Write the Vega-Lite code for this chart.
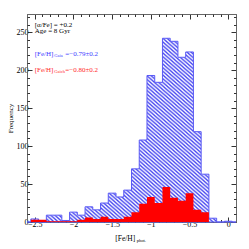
{
  "$schema": "https://vega.github.io/schema/vega-lite/v6.json",
  "width": 209,
  "height": 208,
  "autosize": {"type": "none"},
  "padding": {"left": 27, "top": 14, "right": 13, "bottom": 27},
  "background": "white",
  "config": {
    "view": {"stroke": null},
    "axis": {
      "grid": false,
      "labelFont": "Liberation Serif",
      "labelFontSize": 8,
      "labelColor": "#000",
      "titleFont": "Liberation Serif",
      "titleFontSize": 7,
      "titleFontWeight": "normal",
      "titleColor": "#000",
      "tickColor": "#333",
      "domainColor": "#666",
      "title": null
    }
  },
  "datasets": {
    "blue": [
      {"feh": -2.6, "n": 0}, {"feh": -2.5, "n": 4}, {"feh": -2.4, "n": 0}, {"feh": -2.3, "n": 9},
      {"feh": -2.2, "n": 9}, {"feh": -2.1, "n": 2}, {"feh": -2.0, "n": 13}, {"feh": -1.9, "n": 9},
      {"feh": -1.8, "n": 20}, {"feh": -1.7, "n": 16}, {"feh": -1.6, "n": 25}, {"feh": -1.5, "n": 38},
      {"feh": -1.4, "n": 33}, {"feh": -1.3, "n": 42}, {"feh": -1.2, "n": 70}, {"feh": -1.1, "n": 108},
      {"feh": -1.0, "n": 193}, {"feh": -0.9, "n": 184}, {"feh": -0.8, "n": 242}, {"feh": -0.7, "n": 238},
      {"feh": -0.6, "n": 217}, {"feh": -0.5, "n": 224}, {"feh": -0.4, "n": 119}, {"feh": -0.3, "n": 63},
      {"feh": -0.2, "n": 5}, {"feh": -0.1, "n": 0}, {"feh": 0.0, "n": 1}, {"feh": 0.1, "n": 0}
    ],
    "red": [
      {"feh": -2.6, "n": 0}, {"feh": -2.5, "n": 3}, {"feh": -2.4, "n": 3}, {"feh": -2.3, "n": 1},
      {"feh": -2.2, "n": 1}, {"feh": -2.1, "n": 1}, {"feh": -2.0, "n": 1}, {"feh": -1.9, "n": 3},
      {"feh": -1.8, "n": 6}, {"feh": -1.7, "n": 4}, {"feh": -1.6, "n": 7}, {"feh": -1.5, "n": 4},
      {"feh": -1.4, "n": 4}, {"feh": -1.3, "n": 7}, {"feh": -1.2, "n": 13}, {"feh": -1.1, "n": 24},
      {"feh": -1.0, "n": 33}, {"feh": -0.9, "n": 25}, {"feh": -0.8, "n": 46}, {"feh": -0.7, "n": 32},
      {"feh": -0.6, "n": 28}, {"feh": -0.5, "n": 38}, {"feh": -0.4, "n": 16}, {"feh": -0.3, "n": 13},
      {"feh": -0.2, "n": 0}, {"feh": -0.1, "n": 0}, {"feh": 0.0, "n": 0}, {"feh": 0.1, "n": 0}
    ],
    "notes": [
      {"x": -2.5, "y": 260, "label": "[α/Fe] = +0.2"},
      {"x": -2.5, "y": 251, "label": "Age = 8 Gyr"}
    ],
    "feh": [
      {"x": -2.5, "y": 221, "sample": "Gaia", "main": "[Fe/H]", "sub": "Gaia", "val": "=−0.79±0.2"},
      {"x": -2.5, "y": 200, "sample": "Gaich", "main": "[Fe/H]", "sub": "Gaich", "val": "=−0.80±0.2"}
    ],
    "xtitle": [
      {"x": -1.46, "y": 0, "main": "[Fe/H]", "sub": "phot."}
    ]
  },
  "resolve": {"axis": {"x": "independent", "y": "independent"}},
  "layer": [
    {
      "data": {"name": "blue"},
      "mark": {
        "type": "area",
        "interpolate": "step",
        "stroke": "#5a5af5",
        "strokeWidth": 1,
        "fill": {
          "gradient": "linear", "x1": 0, "y1": 1, "x2": 1, "y2": 0,
          "stops": [
            {"offset":0,"color":"#fff"},{"offset":0.005,"color":"#4848f0"},{"offset":0.01,"color":"#fff"},{"offset":0.015,"color":"#4848f0"},
            {"offset":0.02,"color":"#fff"},{"offset":0.025,"color":"#4848f0"},{"offset":0.03,"color":"#fff"},{"offset":0.035,"color":"#4848f0"},
            {"offset":0.04,"color":"#fff"},{"offset":0.045,"color":"#4848f0"},{"offset":0.05,"color":"#fff"},{"offset":0.055,"color":"#4848f0"},
            {"offset":0.06,"color":"#fff"},{"offset":0.065,"color":"#4848f0"},{"offset":0.07,"color":"#fff"},{"offset":0.075,"color":"#4848f0"},
            {"offset":0.08,"color":"#fff"},{"offset":0.085,"color":"#4848f0"},{"offset":0.09,"color":"#fff"},{"offset":0.095,"color":"#4848f0"},
            {"offset":0.1,"color":"#fff"},{"offset":0.105,"color":"#4848f0"},{"offset":0.11,"color":"#fff"},{"offset":0.115,"color":"#4848f0"},
            {"offset":0.12,"color":"#fff"},{"offset":0.125,"color":"#4848f0"},{"offset":0.13,"color":"#fff"},{"offset":0.135,"color":"#4848f0"},
            {"offset":0.14,"color":"#fff"},{"offset":0.145,"color":"#4848f0"},{"offset":0.15,"color":"#fff"},{"offset":0.155,"color":"#4848f0"},
            {"offset":0.16,"color":"#fff"},{"offset":0.165,"color":"#4848f0"},{"offset":0.17,"color":"#fff"},{"offset":0.175,"color":"#4848f0"},
            {"offset":0.18,"color":"#fff"},{"offset":0.185,"color":"#4848f0"},{"offset":0.19,"color":"#fff"},{"offset":0.195,"color":"#4848f0"},
            {"offset":0.2,"color":"#fff"},{"offset":0.205,"color":"#4848f0"},{"offset":0.21,"color":"#fff"},{"offset":0.215,"color":"#4848f0"},
            {"offset":0.22,"color":"#fff"},{"offset":0.225,"color":"#4848f0"},{"offset":0.23,"color":"#fff"},{"offset":0.235,"color":"#4848f0"},
            {"offset":0.24,"color":"#fff"},{"offset":0.245,"color":"#4848f0"},{"offset":0.25,"color":"#fff"},{"offset":0.255,"color":"#4848f0"},
            {"offset":0.26,"color":"#fff"},{"offset":0.265,"color":"#4848f0"},{"offset":0.27,"color":"#fff"},{"offset":0.275,"color":"#4848f0"},
            {"offset":0.28,"color":"#fff"},{"offset":0.285,"color":"#4848f0"},{"offset":0.29,"color":"#fff"},{"offset":0.295,"color":"#4848f0"},
            {"offset":0.3,"color":"#fff"},{"offset":0.305,"color":"#4848f0"},{"offset":0.31,"color":"#fff"},{"offset":0.315,"color":"#4848f0"},
            {"offset":0.32,"color":"#fff"},{"offset":0.325,"color":"#4848f0"},{"offset":0.33,"color":"#fff"},{"offset":0.335,"color":"#4848f0"},
            {"offset":0.34,"color":"#fff"},{"offset":0.345,"color":"#4848f0"},{"offset":0.35,"color":"#fff"},{"offset":0.355,"color":"#4848f0"},
            {"offset":0.36,"color":"#fff"},{"offset":0.365,"color":"#4848f0"},{"offset":0.37,"color":"#fff"},{"offset":0.375,"color":"#4848f0"},
            {"offset":0.38,"color":"#fff"},{"offset":0.385,"color":"#4848f0"},{"offset":0.39,"color":"#fff"},{"offset":0.395,"color":"#4848f0"},
            {"offset":0.4,"color":"#fff"},{"offset":0.405,"color":"#4848f0"},{"offset":0.41,"color":"#fff"},{"offset":0.415,"color":"#4848f0"},
            {"offset":0.42,"color":"#fff"},{"offset":0.425,"color":"#4848f0"},{"offset":0.43,"color":"#fff"},{"offset":0.435,"color":"#4848f0"},
            {"offset":0.44,"color":"#fff"},{"offset":0.445,"color":"#4848f0"},{"offset":0.45,"color":"#fff"},{"offset":0.455,"color":"#4848f0"},
            {"offset":0.46,"color":"#fff"},{"offset":0.465,"color":"#4848f0"},{"offset":0.47,"color":"#fff"},{"offset":0.475,"color":"#4848f0"},
            {"offset":0.48,"color":"#fff"},{"offset":0.485,"color":"#4848f0"},{"offset":0.49,"color":"#fff"},{"offset":0.495,"color":"#4848f0"},
            {"offset":0.5,"color":"#fff"},{"offset":0.505,"color":"#4848f0"},{"offset":0.51,"color":"#fff"},{"offset":0.515,"color":"#4848f0"},
            {"offset":0.52,"color":"#fff"},{"offset":0.525,"color":"#4848f0"},{"offset":0.53,"color":"#fff"},{"offset":0.535,"color":"#4848f0"},
            {"offset":0.54,"color":"#fff"},{"offset":0.545,"color":"#4848f0"},{"offset":0.55,"color":"#fff"},{"offset":0.555,"color":"#4848f0"},
            {"offset":0.56,"color":"#fff"},{"offset":0.565,"color":"#4848f0"},{"offset":0.57,"color":"#fff"},{"offset":0.575,"color":"#4848f0"},
            {"offset":0.58,"color":"#fff"},{"offset":0.585,"color":"#4848f0"},{"offset":0.59,"color":"#fff"},{"offset":0.595,"color":"#4848f0"},
            {"offset":0.6,"color":"#fff"},{"offset":0.605,"color":"#4848f0"},{"offset":0.61,"color":"#fff"},{"offset":0.615,"color":"#4848f0"},
            {"offset":0.62,"color":"#fff"},{"offset":0.625,"color":"#4848f0"},{"offset":0.63,"color":"#fff"},{"offset":0.635,"color":"#4848f0"},
            {"offset":0.64,"color":"#fff"},{"offset":0.645,"color":"#4848f0"},{"offset":0.65,"color":"#fff"},{"offset":0.655,"color":"#4848f0"},
            {"offset":0.66,"color":"#fff"},{"offset":0.665,"color":"#4848f0"},{"offset":0.67,"color":"#fff"},{"offset":0.675,"color":"#4848f0"},
            {"offset":0.68,"color":"#fff"},{"offset":0.685,"color":"#4848f0"},{"offset":0.69,"color":"#fff"},{"offset":0.695,"color":"#4848f0"},
            {"offset":0.7,"color":"#fff"},{"offset":0.705,"color":"#4848f0"},{"offset":0.71,"color":"#fff"},{"offset":0.715,"color":"#4848f0"},
            {"offset":0.72,"color":"#fff"},{"offset":0.725,"color":"#4848f0"},{"offset":0.73,"color":"#fff"},{"offset":0.735,"color":"#4848f0"},
            {"offset":0.74,"color":"#fff"},{"offset":0.745,"color":"#4848f0"},{"offset":0.75,"color":"#fff"},{"offset":0.755,"color":"#4848f0"},
            {"offset":0.76,"color":"#fff"},{"offset":0.765,"color":"#4848f0"},{"offset":0.77,"color":"#fff"},{"offset":0.775,"color":"#4848f0"},
            {"offset":0.78,"color":"#fff"},{"offset":0.785,"color":"#4848f0"},{"offset":0.79,"color":"#fff"},{"offset":0.795,"color":"#4848f0"},
            {"offset":0.8,"color":"#fff"},{"offset":0.805,"color":"#4848f0"},{"offset":0.81,"color":"#fff"},{"offset":0.815,"color":"#4848f0"},
            {"offset":0.82,"color":"#fff"},{"offset":0.825,"color":"#4848f0"},{"offset":0.83,"color":"#fff"},{"offset":0.835,"color":"#4848f0"},
            {"offset":0.84,"color":"#fff"},{"offset":0.845,"color":"#4848f0"},{"offset":0.85,"color":"#fff"},{"offset":0.855,"color":"#4848f0"},
            {"offset":0.86,"color":"#fff"},{"offset":0.865,"color":"#4848f0"},{"offset":0.87,"color":"#fff"},{"offset":0.875,"color":"#4848f0"},
            {"offset":0.88,"color":"#fff"},{"offset":0.885,"color":"#4848f0"},{"offset":0.89,"color":"#fff"},{"offset":0.895,"color":"#4848f0"},
            {"offset":0.9,"color":"#fff"},{"offset":0.905,"color":"#4848f0"},{"offset":0.91,"color":"#fff"},{"offset":0.915,"color":"#4848f0"},
            {"offset":0.92,"color":"#fff"},{"offset":0.925,"color":"#4848f0"},{"offset":0.93,"color":"#fff"},{"offset":0.935,"color":"#4848f0"},
            {"offset":0.94,"color":"#fff"},{"offset":0.945,"color":"#4848f0"},{"offset":0.95,"color":"#fff"},{"offset":0.955,"color":"#4848f0"},
            {"offset":0.96,"color":"#fff"},{"offset":0.965,"color":"#4848f0"},{"offset":0.97,"color":"#fff"},{"offset":0.975,"color":"#4848f0"},
            {"offset":0.98,"color":"#fff"},{"offset":0.985,"color":"#4848f0"},{"offset":0.99,"color":"#fff"},{"offset":0.995,"color":"#4848f0"},
            {"offset":1,"color":"#fff"}
          ]
        }
      },
      "encoding": {
        "x": {"field": "feh", "type": "quantitative", "scale": {"domain": [-2.6, 0.1], "nice": false, "zero": false},
              "axis": {"orient": "bottom", "values": [-2.5, -2, -1.5, -1, -0.5, 0], "format": "~g", "tickSize": -5, "labelPadding": 3}},
        "y": {"field": "n", "type": "quantitative", "scale": {"domain": [0, 274], "nice": false},
              "axis": {"orient": "left", "values": [0, 50, 100, 150, 200, 250], "tickSize": -5, "labelPadding": 4, "title": "Frequency", "titlePadding": 3}}
      }
    },
    {
      "data": {"name": "red"},
      "mark": {"type": "area", "interpolate": "step", "fill": "#ff0000"},
      "encoding": {
        "x": {"field": "feh", "type": "quantitative", "scale": {"domain": [-2.6, 0.1], "nice": false, "zero": false},
              "axis": {"orient": "bottom", "values": [-2.6, -2.4, -2.3, -2.2, -2.1, -1.9, -1.8, -1.7, -1.6, -1.4, -1.3, -1.2, -1.1, -0.9, -0.8, -0.7, -0.6, -0.4, -0.3, -0.2, -0.1, 0.1], "labels": false, "domain": false, "tickSize": -2.5}},
        "y": {"field": "n", "type": "quantitative", "scale": {"domain": [0, 274], "nice": false},
              "axis": {"orient": "left", "values": [10, 20, 30, 40, 60, 70, 80, 90, 110, 120, 130, 140, 160, 170, 180, 190, 210, 220, 230, 240, 260, 270], "labels": false, "domain": false, "tickSize": -2.5}}
      }
    },
    {
      "data": {"name": "notes"},
      "mark": {"type": "text", "align": "left", "baseline": "middle", "font": "Liberation Serif", "fontSize": 7, "color": "#000"},
      "encoding": {
        "x": {"field": "x", "type": "quantitative", "scale": {"domain": [-2.6, 0.1], "nice": false, "zero": false},
              "axis": {"orient": "top", "values": [-2.5, -2, -1.5, -1, -0.5, 0], "labels": false, "tickSize": -5}},
        "y": {"field": "y", "type": "quantitative", "scale": {"domain": [0, 274], "nice": false},
              "axis": {"orient": "right", "values": [0, 50, 100, 150, 200, 250], "labels": false, "tickSize": -5}},
        "text": {"field": "label"}
      }
    },
    {
      "data": {"name": "feh"},
      "mark": {"type": "text", "align": "left", "baseline": "middle", "font": "Liberation Serif", "fontSize": 7},
      "encoding": {
        "x": {"field": "x", "type": "quantitative", "scale": {"domain": [-2.6, 0.1], "nice": false, "zero": false},
              "axis": {"orient": "top", "values": [-2.6, -2.4, -2.3, -2.2, -2.1, -1.9, -1.8, -1.7, -1.6, -1.4, -1.3, -1.2, -1.1, -0.9, -0.8, -0.7, -0.6, -0.4, -0.3, -0.2, -0.1, 0.1], "labels": false, "domain": false, "tickSize": -2.5}},
        "y": {"field": "y", "type": "quantitative", "scale": {"domain": [0, 274], "nice": false},
              "axis": {"orient": "right", "values": [10, 20, 30, 40, 60, 70, 80, 90, 110, 120, 130, 140, 160, 170, 180, 190, 210, 220, 230, 240, 260, 270], "labels": false, "domain": false, "tickSize": -2.5}},
        "text": {"field": "main"},
        "color": {"field": "sample", "type": "nominal", "scale": {"domain": ["Gaia", "Gaich"], "range": ["#3c3cff", "#ff2a2a"]}, "legend": null}
      }
    },
    {
      "data": {"name": "feh"},
      "mark": {"type": "text", "align": "left", "baseline": "middle", "font": "Liberation Serif", "fontSize": 4.5, "dx": 19.5, "dy": 2},
      "encoding": {
        "x": {"field": "x", "type": "quantitative", "scale": {"domain": [-2.6, 0.1], "nice": false, "zero": false}, "axis": null},
        "y": {"field": "y", "type": "quantitative", "scale": {"domain": [0, 274], "nice": false}, "axis": null},
        "text": {"field": "sub"},
        "color": {"field": "sample", "type": "nominal", "legend": null}
      }
    },
    {
      "data": {"name": "feh"},
      "mark": {"type": "text", "align": "left", "baseline": "middle", "font": "Liberation Serif", "fontSize": 7, "dx": 30.5},
      "encoding": {
        "x": {"field": "x", "type": "quantitative", "scale": {"domain": [-2.6, 0.1], "nice": false, "zero": false}, "axis": null},
        "y": {"field": "y", "type": "quantitative", "scale": {"domain": [0, 274], "nice": false}, "axis": null},
        "text": {"field": "val"},
        "color": {"field": "sample", "type": "nominal", "legend": null}
      }
    },
    {
      "data": {"name": "xtitle"},
      "mark": {"type": "text", "align": "left", "baseline": "middle", "font": "Liberation Serif", "fontSize": 7.5, "dy": 17, "color": "#000"},
      "encoding": {
        "x": {"field": "x", "type": "quantitative", "scale": {"domain": [-2.6, 0.1], "nice": false, "zero": false}, "axis": null},
        "y": {"field": "y", "type": "quantitative", "scale": {"domain": [0, 274], "nice": false}, "axis": null},
        "text": {"field": "main"}
      }
    },
    {
      "data": {"name": "xtitle"},
      "mark": {"type": "text", "align": "left", "baseline": "middle", "font": "Liberation Serif", "fontSize": 4.5, "dx": 21.5, "dy": 19, "color": "#000"},
      "encoding": {
        "x": {"field": "x", "type": "quantitative", "scale": {"domain": [-2.6, 0.1], "nice": false, "zero": false}, "axis": null},
        "y": {"field": "y", "type": "quantitative", "scale": {"domain": [0, 274], "nice": false}, "axis": null},
        "text": {"field": "sub"}
      }
    }
  ]
}
